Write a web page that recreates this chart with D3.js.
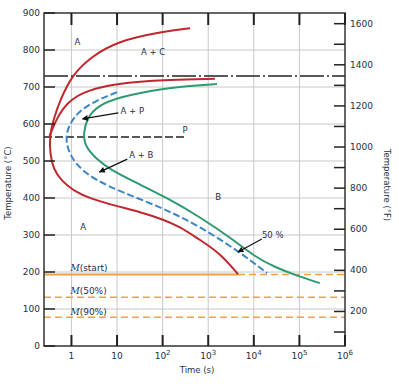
<!DOCTYPE html>
<html><head><meta charset="utf-8">
<script src="https://cdn.jsdelivr.net/npm/d3@7"></script>
<style>body{margin:0;background:#fff}svg{display:block;font-family:"DejaVu Sans",Verdana,sans-serif}</style>
</head><body>
<script>
const width = 399, height = 386;

// curves: [time (s), temperature (°C)]
const startOuter = [[400,859],[103,850],[10,824],[2.6,780],[1,730],[0.57,665],[0.40,612],[0.33,565],[0.34,520],[0.40,478],[0.6,447],[1.1,420],[2.6,398],[10,378],[32,362],[103,342],[243,322],[600,290],[1820,251],[4500,194]];
const startInner = [[0.33,565],[0.33,568],[0.49,619],[0.82,659],[1.8,686],[6.1,705],[28,714],[126,719],[1400,722]];
const fifty = [[10,686],[3.7,665],[1.57,638],[0.95,605],[0.72,565],[0.9,515],[1.8,470],[6.1,432],[32,397],[147,363],[667,322],[4300,259],[19500,197]];
const finish = [[1560,708],[667,705],[103,697],[10.2,672],[3.7,648],[2.24,618],[1.8,575],[2.0,538],[3.7,503],[7.1,477],[22.7,445],[147,396],[667,348],[3500,288],[10000,243],[30000,212],[89000,190],[280000,170]];

const eutectoid = 730;
const pearliteLine = {T: 565, to: 330};
const mLines = [
  {name: "M", tag: "(start)", T: 193, solidTo: 4500, labelT: 203},
  {name: "M", tag: "(50%)", T: 132, solidTo: 0, labelT: 140},
  {name: "M", tag: "(90%)", T: 78, solidTo: 0, labelT: 84}
];
const regionLabels = [
  {text: "A", t: 1.35, T: 822},
  {text: "A + C", t: 62, T: 795},
  {text: "A + P", t: 21.6, T: 635},
  {text: "P", t: 310, T: 584},
  {text: "A + B", t: 34, T: 516},
  {text: "B", t: 1650, T: 403},
  {text: "A", t: 1.8, T: 322},
  {text: "50 %", t: 26000, T: 300}
];
const arrows = [
  {from: [10.7, 630], to: [1.74, 614]},
  {from: [16.8, 505], to: [4.1, 470]},
  {from: [15000, 289], to: [4500, 254]}
];
const xTicks = [1, 10, 100, 1e3, 1e4, 1e5, 1e6];
const xTickLabels = [["1",""],["10",""],["10","2"],["10","3"],["10","4"],["10","5"],["10","6"]];
const cTicks = [0,100,200,300,400,500,600,700,800,900];
const fTicks = d3.range(100, 1700, 100);
const fLabels = [200,400,600,800,1000,1200,1400,1600];

const x = d3.scaleLog().domain([0.25, 1e6]).range([44, 345]);
const y = d3.scaleLinear().domain([0, 900]).range([346, 13]);
const yF = d3.scaleLinear().domain([32, 1652]).range([346, 13]);
const ink = "#243046";

const svg = d3.select("body").append("svg").attr("width", width).attr("height", height);

// grid
svg.append("g").selectAll("line").data(xTicks.slice(0, -1)).join("line")
  .attr("x1", d => x(d)).attr("x2", d => x(d)).attr("y1", y(0)).attr("y2", y(900))
  .attr("stroke", "#c8c8c8").attr("stroke-width", 1);
svg.append("g").selectAll("line").data(cTicks.slice(1, -1)).join("line")
  .attr("x1", x(0.25)).attr("x2", x(1e6)).attr("y1", d => y(d)).attr("y2", d => y(d))
  .attr("stroke", "#c8c8c8").attr("stroke-width", 1);

// reference lines
svg.append("line").attr("x1", x(0.25)).attr("x2", x(1e6)).attr("y1", y(eutectoid)).attr("y2", y(eutectoid))
  .attr("stroke", "#222").attr("stroke-width", 1.5).attr("stroke-dasharray", "24,3,2,3");
svg.append("line").attr("x1", x(0.25)).attr("x2", x(pearliteLine.to)).attr("y1", y(pearliteLine.T)).attr("y2", y(pearliteLine.T))
  .attr("stroke", "#222").attr("stroke-width", 1.5).attr("stroke-dasharray", "8,3");

const orange = "#f4a040";
mLines.forEach(m => {
  if (m.solidTo) {
    svg.append("line").attr("x1", x(0.25)).attr("x2", x(m.solidTo)).attr("y1", y(m.T)).attr("y2", y(m.T))
      .attr("stroke", orange).attr("stroke-width", 2);
  }
  svg.append("line").attr("x1", m.solidTo ? x(m.solidTo) : x(0.25)).attr("x2", x(1e6)).attr("y1", y(m.T)).attr("y2", y(m.T))
    .attr("stroke", orange).attr("stroke-width", 1.5).attr("stroke-dasharray", "7,4");
  const t = svg.append("text").attr("x", x(0.95)).attr("y", y(m.labelT))
    .attr("font-size", 9).attr("fill", ink);
  t.append("tspan").text(m.name).attr("font-family", "DejaVu Serif, serif").attr("font-style", "italic");
  t.append("tspan").text(m.tag);
});

// curves
const line = d3.line().x(d => x(d[0])).y(d => y(d[1])).curve(d3.curveBasis);
const red = "#c0272d";
svg.append("path").attr("d", line(startOuter)).attr("fill", "none").attr("stroke", red).attr("stroke-width", 2);
svg.append("path").attr("d", line(startInner)).attr("fill", "none").attr("stroke", red).attr("stroke-width", 2);
svg.append("path").attr("d", line(fifty)).attr("fill", "none").attr("stroke", "#3a86c8").attr("stroke-width", 2).attr("stroke-dasharray", "7,3");
svg.append("path").attr("d", line(finish)).attr("fill", "none").attr("stroke", "#2e9a70").attr("stroke-width", 2);

// frame
svg.append("rect").attr("x", x(0.25)).attr("y", y(900)).attr("width", x(1e6) - x(0.25)).attr("height", y(0) - y(900))
  .attr("fill", "none").attr("stroke", "#333").attr("stroke-width", 1.5);

// ticks
svg.append("g").selectAll("line").data(xTicks).join("line")
  .attr("x1", d => x(d)).attr("x2", d => x(d)).attr("y1", y(0)).attr("y2", y(0) - 11)
  .attr("stroke", "#222").attr("stroke-width", 2);
svg.append("g").selectAll("line").data(xTicks).join("line")
  .attr("x1", d => x(d)).attr("x2", d => x(d)).attr("y1", y(900)).attr("y2", y(900) + 12)
  .attr("stroke", "#222").attr("stroke-width", 2);
svg.append("g").selectAll("line").data(cTicks).join("line")
  .attr("x1", x(0.25)).attr("x2", x(0.25) + 11).attr("y1", d => y(d)).attr("y2", d => y(d))
  .attr("stroke", "#222").attr("stroke-width", 1.5);
svg.append("g").selectAll("line").data(fTicks).join("line")
  .attr("x1", x(1e6)).attr("x2", x(1e6) - 11).attr("y1", d => yF(d)).attr("y2", d => yF(d))
  .attr("stroke", "#222").attr("stroke-width", 1.5);

// tick labels
const xl = svg.append("g").selectAll("text").data(xTicks).join("text")
  .attr("x", d => x(d)).attr("y", 359).attr("text-anchor", "middle").attr("font-size", 9).attr("fill", ink);
xl.append("tspan").text((d, i) => xTickLabels[i][0]);
xl.append("tspan").text((d, i) => xTickLabels[i][1]).attr("font-size", 7).attr("dy", -4);
svg.append("g").selectAll("text").data(cTicks).join("text")
  .attr("x", 40).attr("y", d => y(d) + 3).attr("text-anchor", "end").attr("font-size", 9).attr("fill", ink).text(d => d);
svg.append("g").selectAll("text").data(fLabels).join("text")
  .attr("x", 350).attr("y", d => yF(d) + 3).attr("font-size", 9).attr("fill", ink).text(d => d);

// axis titles
svg.append("text").attr("transform", "translate(11,183) rotate(-90)").attr("text-anchor", "middle")
  .attr("font-size", 8.5).attr("fill", ink).text("Temperature (°C)");
svg.append("text").attr("transform", "translate(384,185) rotate(90)").attr("text-anchor", "middle")
  .attr("font-size", 8.5).attr("fill", ink).text("Temperature (°F)");
svg.append("text").attr("x", 197).attr("y", 373).attr("text-anchor", "middle")
  .attr("font-size", 8.5).attr("fill", ink).text("Time (s)");

// region labels
svg.append("g").selectAll("text").data(regionLabels).join("text")
  .attr("x", d => x(d.t)).attr("y", d => y(d.T) + 3).attr("text-anchor", "middle")
  .attr("font-size", 8.5).attr("fill", ink).text(d => d.text);

// arrows
svg.append("defs").append("marker").attr("id", "ah").attr("viewBox", "0 0 10 10")
  .attr("refX", 9).attr("refY", 5).attr("markerWidth", 7).attr("markerHeight", 6).attr("orient", "auto")
  .attr("markerUnits", "userSpaceOnUse")
  .append("path").attr("d", "M0,0L10,5L0,10z").attr("fill", "#111");
svg.append("g").selectAll("line").data(arrows).join("line")
  .attr("x1", d => x(d.from[0])).attr("y1", d => y(d.from[1]))
  .attr("x2", d => x(d.to[0])).attr("y2", d => y(d.to[1]))
  .attr("stroke", "#111").attr("stroke-width", 1.2).attr("marker-end", "url(#ah)");
</script>
</body></html>
